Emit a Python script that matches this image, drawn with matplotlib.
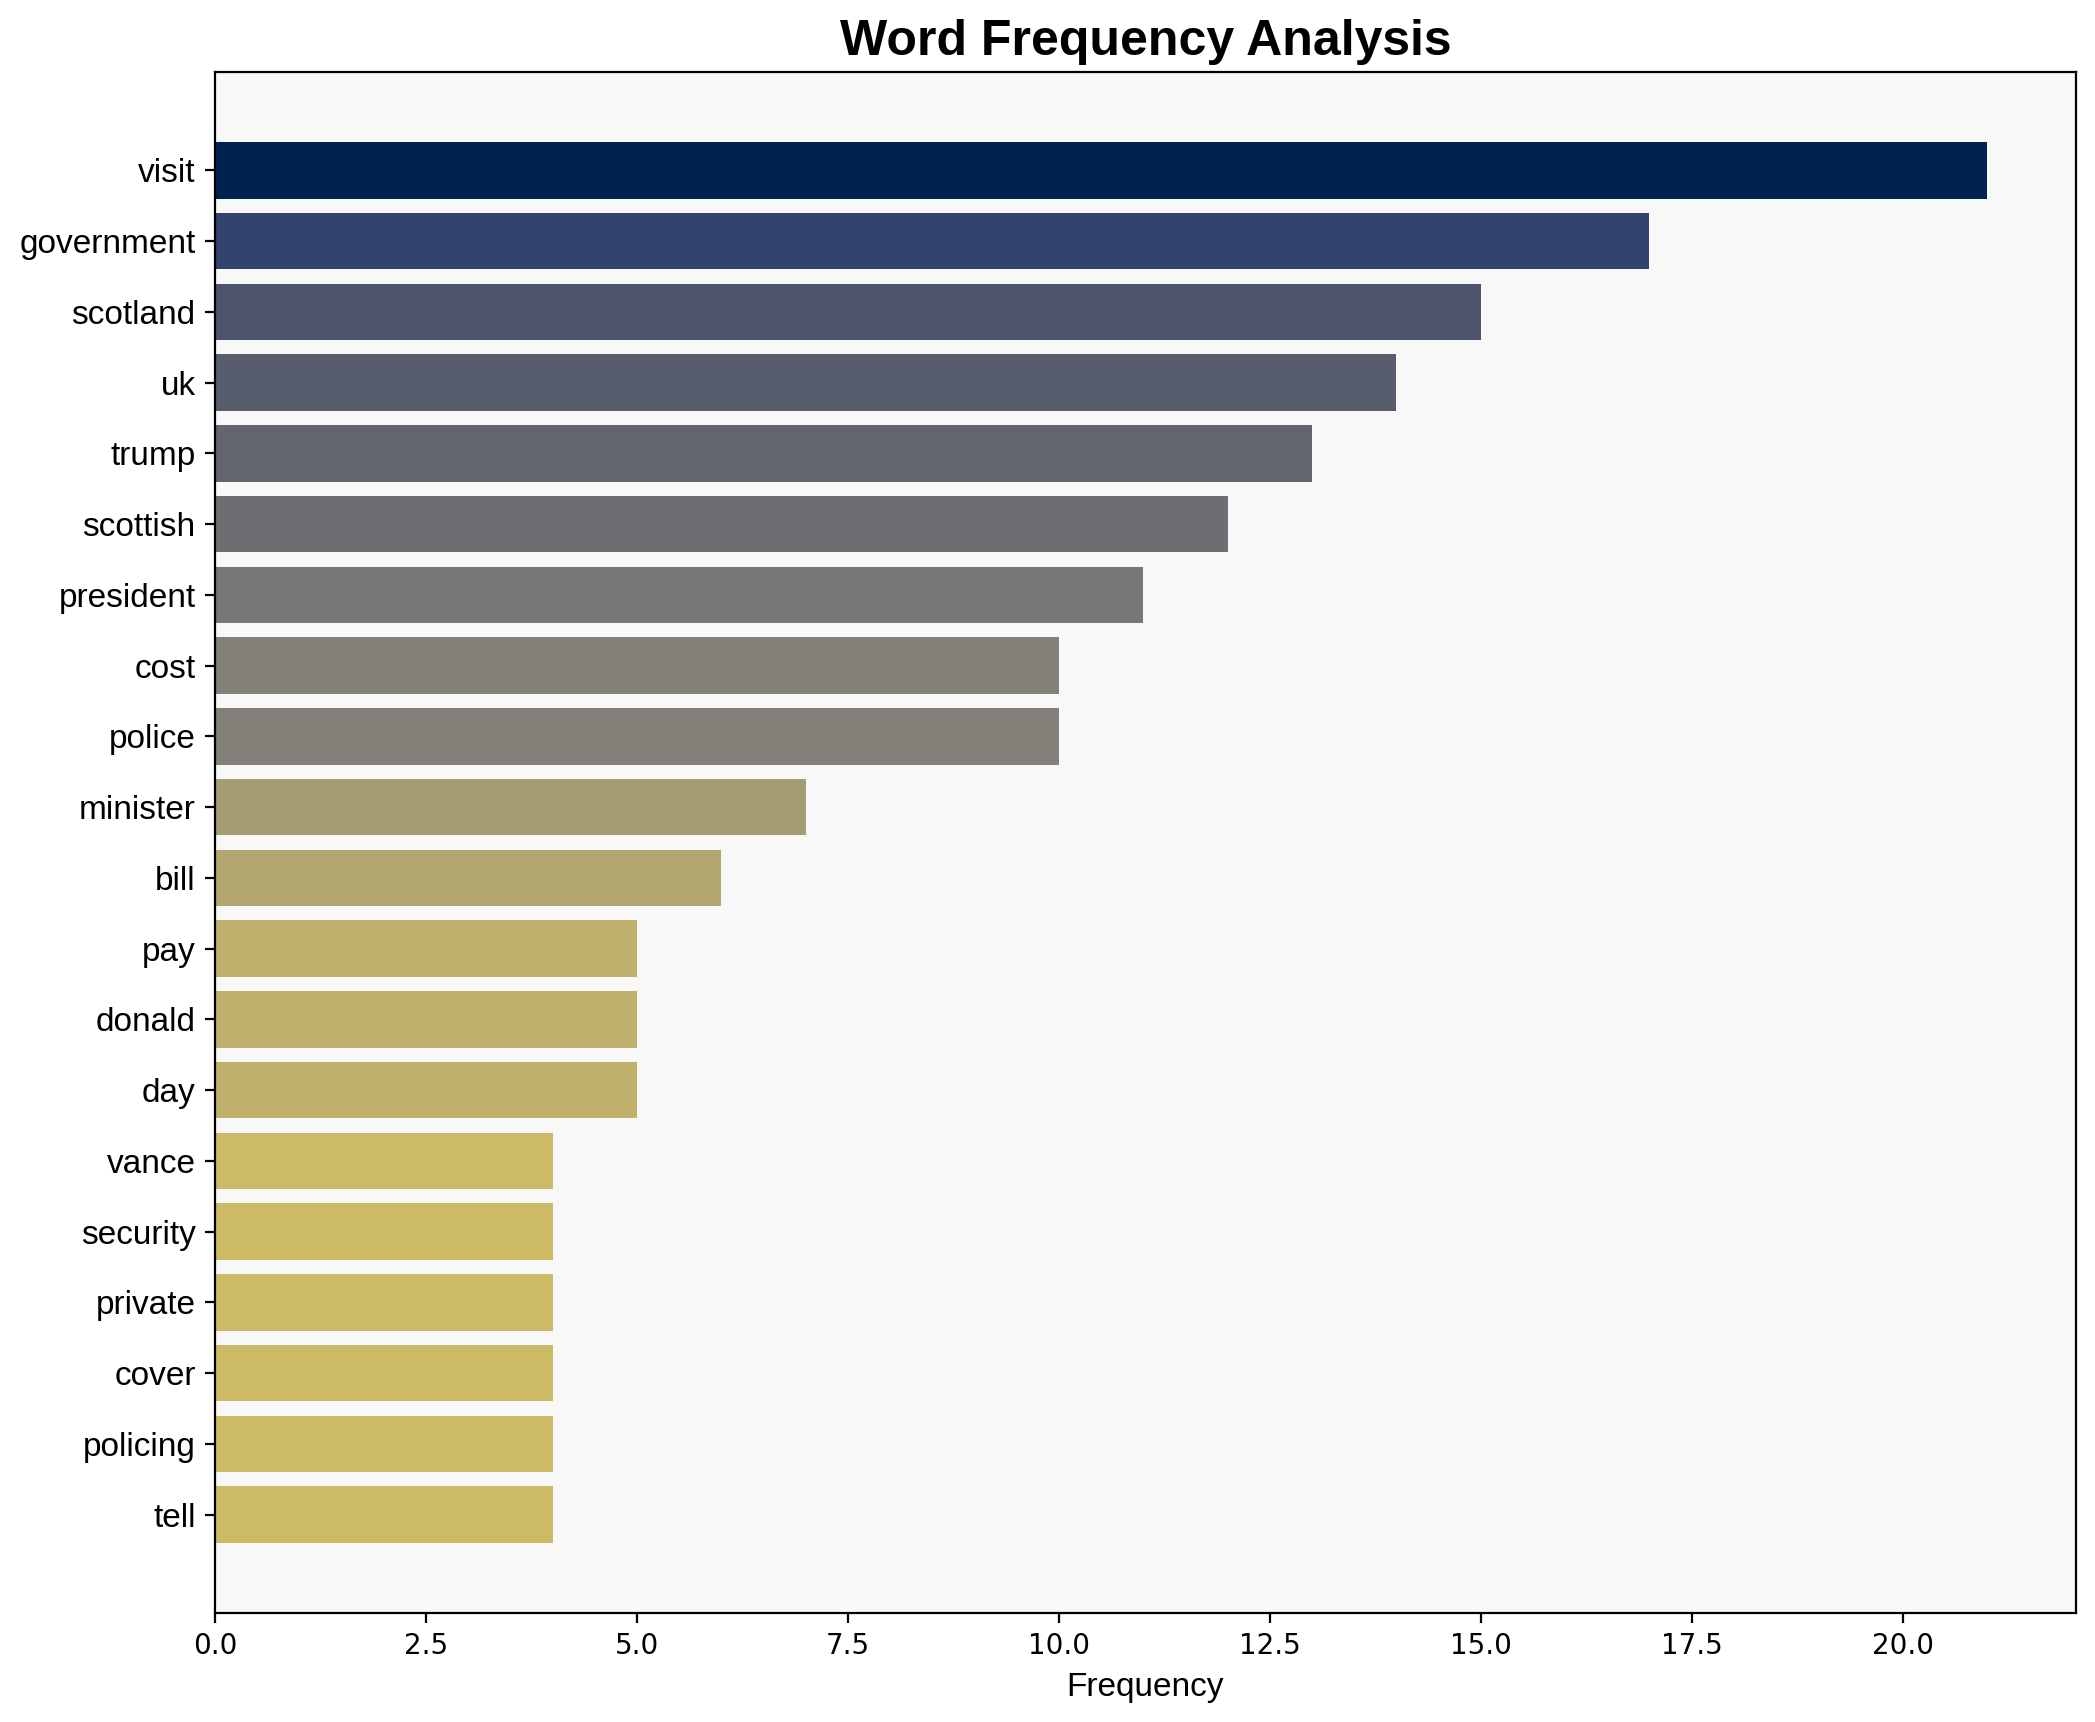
import matplotlib
matplotlib.use("Agg")
import matplotlib.pyplot as plt
import numpy as np

words = ["visit", "government", "scotland", "uk", "trump", "scottish", "president",
         "cost", "police", "minister", "bill", "pay", "donald", "day", "vance",
         "security", "private", "cover", "policing", "tell"]
counts = [21, 17, 15, 14, 13, 12, 11, 10, 10, 7, 6, 5, 5, 5, 4, 4, 4, 4, 4, 4]

plt.rcParams['font.family'] = ['Liberation Sans', 'DejaVu Sans']

fig, ax = plt.subplots(figsize=(10.475, 8.61), dpi=200)
vals = np.array(counts, dtype=float)
colors = plt.cm.cividis_r(vals / vals.max())
y = np.arange(len(words))
ax.barh(y, vals, color=colors, height=0.8)
ax.set_yticks(y)
ax.set_yticklabels(words, fontsize=12)
ax.invert_yaxis()
ax.set_facecolor('#f8f8f8')
ax.tick_params(axis='x', labelsize=10)
for lbl in ax.get_xticklabels():
    lbl.set_fontfamily('DejaVu Sans')
ax.set_xlabel("Frequency", fontsize=12)
ax.set_title("Word Frequency Analysis", fontsize=18, fontweight='bold')
fig.tight_layout(pad=0.7)
fig.savefig("out.png", dpi=200)
